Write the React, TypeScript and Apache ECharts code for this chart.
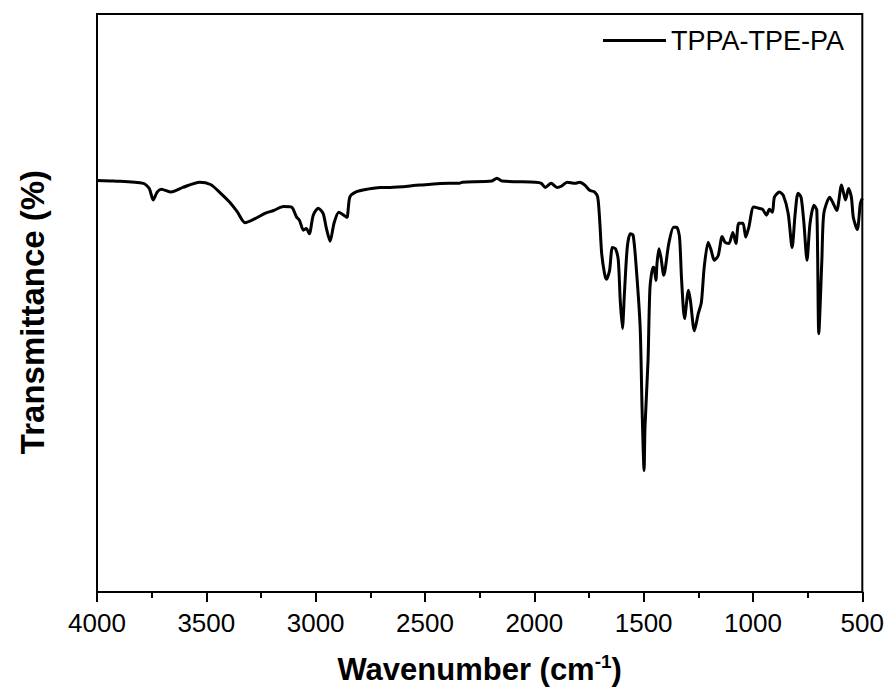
import React, { useEffect, useRef } from "react";
import * as echarts from "echarts";

const seriesName = "TPPA-TPE-PA";
const xTicks = [4000, 3500, 3000, 2500, 2000, 1500, 1000, 500];

// wavenumber (cm-1)
const wavenumbers = [
  4000, 3923, 3788, 3761, 3743, 3725, 3706, 3661, 3607, 3530, 3481, 3440, 3395, 3359, 3323,
  3277, 3232, 3192, 3147, 3110, 3088, 3074, 3056, 3043, 3029, 3011, 2988, 2966, 2952, 2934,
  2916, 2894, 2871, 2857, 2844, 2817, 2763, 2704, 2659, 2523, 2388, 2343, 2329, 2194, 2171,
  2148, 1995, 1968, 1950, 1923, 1896, 1877, 1850, 1814, 1792, 1769, 1747, 1724, 1710, 1701,
  1692, 1679, 1670, 1656, 1643, 1629, 1616, 1607, 1597, 1588, 1575, 1561, 1548, 1534, 1516,
  1507, 1498, 1494, 1480, 1471, 1457, 1453, 1444, 1439, 1430, 1421, 1408, 1385, 1363, 1349,
  1336, 1327, 1313, 1295, 1286, 1268, 1250, 1236, 1223, 1205, 1191, 1177, 1159, 1141, 1128,
  1110, 1092, 1078, 1065, 1046, 1033, 1019, 997, 974, 956, 938, 925, 911, 902, 879,
  861, 839, 821, 807, 794, 780, 767, 753, 739, 721, 708, 699, 685, 676, 649,
  635, 617, 595, 577, 563, 550, 541, 523, 509, 500,
];

// transmittance (arbitrary %)
const transmittance = [
  71.2, 71.1, 70.7, 69.8, 67.8, 69.2, 69.7, 69.2, 70.0, 70.9, 70.5, 69.2, 67.5, 65.8, 63.9,
  64.6, 65.5, 66.0, 66.7, 66.6, 64.9, 64.3, 62.6, 62.9, 62.0, 65.2, 66.4, 65.5, 63.1, 60.7,
  63.8, 65.7, 65.2, 64.8, 68.3, 69.2, 69.7, 70.0, 70.0, 70.4, 70.7, 70.7, 70.9, 71.1, 71.6,
  71.1, 70.9, 70.7, 70.0, 70.7, 70.0, 70.2, 70.9, 70.7, 70.9, 70.4, 69.5, 69.2, 68.3, 64.3,
  58.6, 55.1, 54.1, 55.6, 59.6, 59.4, 57.4, 50.4, 45.6, 51.6, 59.6, 62.0, 61.7, 56.2, 45.8,
  31.4, 21.0, 28.4, 40.0, 52.7, 56.2, 56.2, 53.9, 56.8, 59.4, 57.9, 54.8, 60.3, 63.1, 63.1,
  61.4, 54.4, 47.3, 52.2, 50.4, 45.2, 48.2, 50.1, 56.2, 60.5, 59.1, 57.4, 58.2, 61.5, 60.5,
  60.3, 62.2, 60.3, 63.8, 63.8, 61.4, 63.1, 66.6, 66.4, 66.2, 65.2, 66.2, 65.7, 68.3, 69.2,
  68.6, 65.5, 59.6, 65.5, 69.0, 68.3, 63.8, 57.4, 63.8, 66.9, 66.0, 44.7, 57.4, 65.5, 68.3,
  67.4, 66.0, 70.4, 67.8, 69.8, 68.3, 64.8, 62.7, 67.2, 68.1,
];

export default function App() {
  const ref = useRef<HTMLDivElement>(null);
  useEffect(() => {
    if (!ref.current) return;
    const chart = echarts.init(ref.current, null, { renderer: "svg" });
    const data = wavenumbers.map((w, i) => [w, transmittance[i]]);
    const font = "'Liberation Sans', Arial, Helvetica, sans-serif";
    chart.setOption({
      animation: false,
      backgroundColor: "#fff",
      textStyle: { fontFamily: font },
      grid: {
        left: 84,
        right: 19,
        top: 6,
        bottom: 99,
        show: true,
        borderColor: "#000",
        borderWidth: 2,
        backgroundColor: "transparent",
      },
      legend: {
        left: 590,
        top: 14,
        itemWidth: 63,
        itemHeight: 3,
        itemGap: 7,
        icon: "rect",
        textStyle: { fontSize: 27, color: "#000", fontFamily: font },
        data: [seriesName],
        itemStyle: { color: "#000" },
      },
      xAxis: {
        type: "value",
        min: 500,
        max: 4000,
        interval: 500,
        inverse: true,
        name: "Wavenumber (cm{sup|-1})",
        nameLocation: "middle",
        nameGap: 60,
        nameTextStyle: {
          fontSize: 31,
          fontWeight: "bold",
          color: "#000",
          fontFamily: font,
          rich: {
            sup: {
              fontSize: 19,
              fontWeight: "bold",
              verticalAlign: "top",
              padding: [0, 0, 16, 0],
              color: "#000",
              fontFamily: font,
            },
          },
        },
        axisLine: { show: true, lineStyle: { color: "#000", width: 2 } },
        axisTick: { show: true, inside: false, length: 10, lineStyle: { color: "#000", width: 2 } },
        minorTick: { show: true, splitNumber: 2, length: 6, lineStyle: { color: "#000", width: 2 } },
        splitLine: { show: false },
        axisLabel: {
          fontSize: 26,
          color: "#000",
          margin: 18,
          fontFamily: font,
          formatter: (v: number) => (xTicks.includes(v) ? String(v) : ""),
        },
      },
      yAxis: {
        type: "value",
        min: 0,
        max: 100,
        name: "Transmittance (%)",
        nameLocation: "middle",
        nameGap: 48,
        nameTextStyle: {
          fontSize: 33,
          fontWeight: "bold",
          color: "#000",
          fontFamily: font,
          padding: [0, 18, 0, 0],
        },
        axisLine: { show: true, lineStyle: { color: "#000", width: 2 } },
        axisTick: { show: false },
        axisLabel: { show: false },
        splitLine: { show: false },
      },
      series: [
        {
          name: seriesName,
          type: "line",
          data,
          smooth: 0.25,
          symbol: "none",
          lineStyle: { color: "#000", width: 3 },
          itemStyle: { color: "#000" },
        },
      ],
    });
    return () => chart.dispose();
  }, []);
  return <div ref={ref} style={{ width: 879, height: 683 }} />;
}
